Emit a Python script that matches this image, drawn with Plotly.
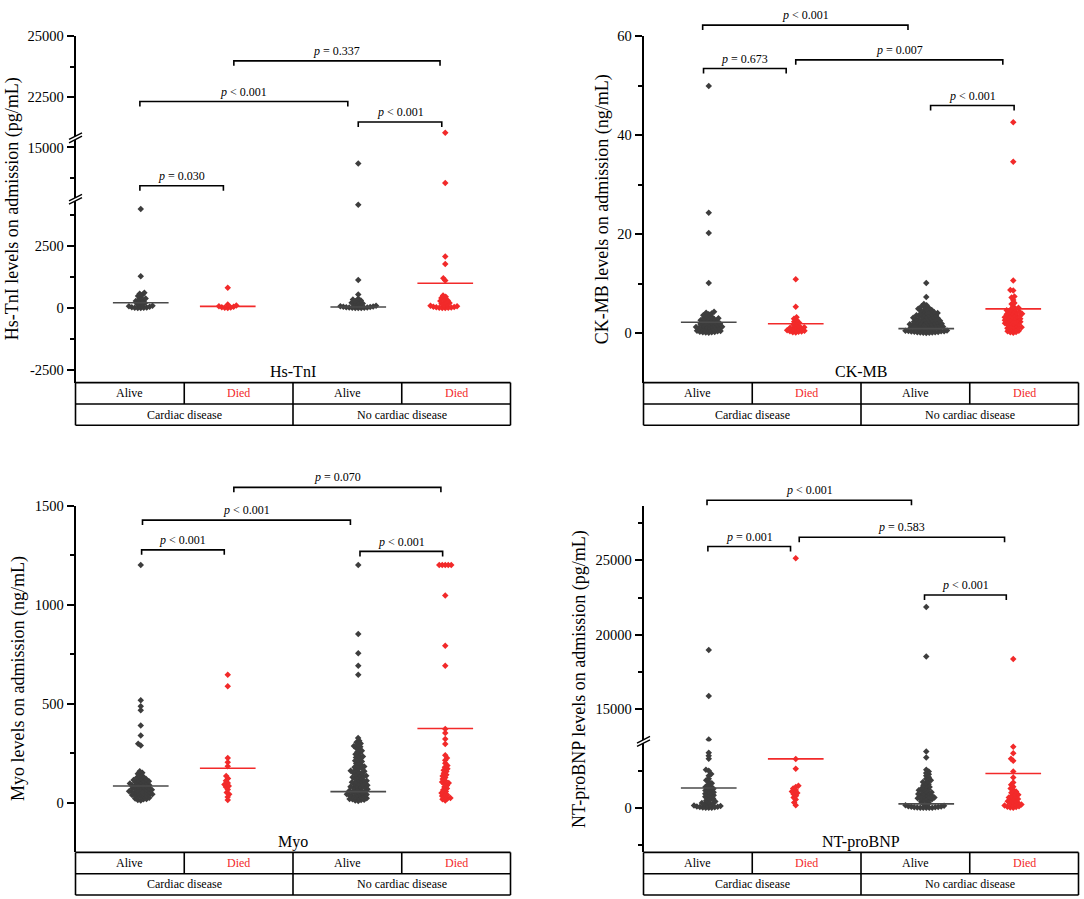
import math
import plotly.graph_objects as go

W, H = 1084, 899
FONT = "Liberation Serif"
DARK = "#3d3d3d"
RED = "#f22a2a"
LINE_DARK = "#4a4a4a"

# ---- categories / labels
status = ["Alive", "Died", "Alive", "Died"]
disease = ["Cardiac disease", "No cardiac disease"]
group_x = [1, 2, 3.5, 4.5]

# ---- Hs-TnI (pg/mL)
tni_cardiac_alive = [0, 5, 10, 15, 25, 35, 50, 70, 90, 110, 140, 170, 200, 240, 280, 307,
                     330, 380, 430, 480, 530, 580, 620, 1275, 3985]
tni_cardiac_died = [0, 10, 20, 35, 50, 70, 100, 140, 812]
tni_nocardiac_alive = [0, 0, 5, 10, 15, 20, 25, 30, 40, 50, 60, 75, 90, 110, 130, 150, 180,
                       210, 240, 270, 300, 340, 375, 546, 1131, 4160, 13685]
tni_nocardiac_died = [0, 5, 10, 15, 20, 30, 40, 55, 70, 90, 110, 140, 170, 200, 240, 280,
                      307, 350, 400, 450, 506, 1104, 1195, 1769, 2072, 12100, 21060]
tni_median = [215, 68, 40, 996]
tni_p = ["= 0.030", "&lt; 0.001", "= 0.337", "&lt; 0.001"]

# ---- CK-MB (ng/mL)
ck_cardiac_alive = [0.05, 0.1, 0.15, 0.2, 0.25, 0.3, 0.4, 0.45, 0.5, 0.6, 0.7, 0.75, 0.85, 0.95,
                    1.0, 1.05, 1.1, 1.2, 1.25, 1.3, 1.4, 1.5, 1.55, 1.6, 1.7, 1.8, 1.85, 1.95,
                    2.0, 2.1, 2.2, 2.3, 2.4, 2.5, 2.6, 2.7, 2.8, 2.9, 2.95,
                    3.0, 3.15, 3.3, 3.45, 3.6, 3.8, 3.95, 4.1, 4.3,
                    10.1, 20.2, 24.3, 49.9]
ck_cardiac_died = [0.1, 0.2, 0.3, 0.35, 0.4, 0.5, 0.6, 0.7, 0.8, 0.9, 1.0, 1.1, 1.2, 1.3,
                   1.5, 1.7, 1.9, 2.1, 2.3, 2.6, 2.9, 3.2, 5.3, 10.9]
ck_nocardiac_alive = [0.02, 0.05, 0.08, 0.1, 0.13, 0.17, 0.2, 0.24, 0.28, 0.32, 0.36, 0.4,
                      0.45, 0.5, 0.55, 0.6, 0.65, 0.7, 0.76, 0.82, 0.88, 0.94,
                      1.0, 1.05, 1.1, 1.15, 1.2, 1.25, 1.3, 1.35, 1.4, 1.45, 1.5, 1.55, 1.6,
                      1.65, 1.7, 1.75, 1.8, 1.85, 1.9, 1.95,
                      2.0, 2.06, 2.12, 2.18, 2.25, 2.31, 2.37, 2.43, 2.5, 2.56, 2.62, 2.68,
                      2.75, 2.81, 2.87, 2.94,
                      3.0, 3.08, 3.15, 3.23, 3.3, 3.38, 3.46, 3.54, 3.62, 3.7, 3.78, 3.86, 3.94,
                      4.05, 4.15, 4.25, 4.35, 4.45, 4.55, 4.65, 4.78, 4.9,
                      5.05, 5.25, 5.45, 5.65, 5.9, 7.3, 10.1]
ck_nocardiac_died = [0.05, 0.15, 0.25, 0.4, 0.5, 0.65, 0.8, 0.9,
                     1.0, 1.1, 1.2, 1.3, 1.45, 1.55, 1.7, 1.8, 1.9,
                     2.0, 2.1, 2.2, 2.3, 2.4, 2.5, 2.6, 2.7, 2.8, 2.9,
                     3.0, 3.1, 3.2, 3.3, 3.4, 3.5, 3.6, 3.7, 3.8, 3.9,
                     4.0, 4.1, 4.2, 4.35, 4.5, 4.6, 4.75, 4.9,
                     5.1, 5.4, 5.9, 6.1, 6.7, 7.2, 7.4, 8.6, 8.7, 10.6, 34.6, 42.6]
ck_median = [2.2, 1.9, 0.9, 4.9]
ck_p = ["&lt; 0.001", "= 0.673", "= 0.007", "&lt; 0.001"]

# ---- Myo (ng/mL)
myo_cardiac_alive = [12, 15, 18, 20, 22, 26, 30, 32, 34, 36, 38, 40, 42, 43, 46, 48, 49, 52,
                     54, 55, 57, 59, 61, 63, 65, 66, 68, 71, 73, 74, 77, 80, 82, 84, 86, 88,
                     89, 92, 95, 97, 98, 101, 104, 107, 109, 112, 114, 116, 120, 124, 128,
                     133, 140, 147, 152, 160, 290, 298, 340, 390, 468, 488, 518, 1200]
myo_cardiac_died = [15, 30, 43, 52, 68, 80, 85, 93, 100, 112, 123, 135, 185, 205, 227, 588, 647]
myo_nocardiac_alive = [10, 12, 14, 16, 18, 20, 23, 26, 28, 31, 34,
                       36, 38, 40, 42, 44, 47, 50, 52, 55, 57, 59,
                       61, 63, 66, 69, 72, 75, 78, 80, 82, 84,
                       86, 89, 92, 95, 98, 101, 104, 107, 109,
                       112, 115, 118, 121, 125, 129, 132, 134,
                       137, 141, 145, 149, 153, 157, 159,
                       162, 167, 172, 176, 180, 184,
                       188, 193, 199, 204, 209,
                       213, 218, 224, 229, 234,
                       239, 245, 251, 257,
                       263, 270, 277, 283,
                       287, 293, 300, 306, 313, 327,
                       647, 692, 755, 852, 1200]
myo_nocardiac_died = [12, 18, 22, 25, 30, 35, 40, 45, 50, 58, 65, 72, 80, 88, 95, 100, 105,
                      112, 120, 128, 135, 142, 150, 158, 165, 172, 180, 188, 200, 215, 227,
                      240, 297, 322, 352, 373, 692, 793, 1047, 1200, 1200, 1200, 1200, 1200]
myo_median = [85, 175, 57, 375]
myo_p = ["= 0.070", "&lt; 0.001", "&lt; 0.001", "&lt; 0.001"]

# ---- NT-proBNP (pg/mL)
bnp_cardiac_alive = [0, 0, 10, 20, 35, 50, 70, 90, 120, 150, 180, 210, 250, 290, 330, 380,
                     430, 490, 550, 620, 690, 740, 790, 840, 890, 940, 990, 1040, 1100,
                     1160, 1220, 1280, 1340, 1400, 1470, 1560, 1650, 1750, 1850, 1960,
                     2160, 2270, 2490, 2560, 3300, 3500, 3700, 12950, 15870, 18970]
bnp_cardiac_died = [180, 350, 560, 700, 820, 933, 1000, 1100, 1200, 1300, 1400, 1490,
                    2630, 3290, 25150]
bnp_nocardiac_alive = [0, 0, 0, 5, 10, 20, 30, 40, 55, 70, 90, 110, 140, 170, 210, 260, 320,
                       400, 470, 520, 550, 580, 610, 640, 670, 700, 730, 770, 810, 850, 890,
                       930, 970, 1010, 1050, 1090, 1130, 1180, 1230, 1280, 1340, 1400, 1460,
                       1520, 1590, 1660, 1730, 1790, 1850, 1950, 2050, 2150, 2250, 2350,
                       2450, 2560, 3380, 3780, 18530, 21870]
bnp_nocardiac_died = [0, 20, 50, 80, 110, 150, 190, 230, 270, 310, 350, 400, 450, 500, 550,
                      600, 650, 700, 760, 820, 880, 950, 1020, 1100, 1200, 1300, 1420, 1560,
                      1700, 2047, 2447, 3160, 3293, 3667, 4113, 18373]
bnp_median = [1333, 3290, 267, 2313]
bnp_p = ["&lt; 0.001", "= 0.001", "= 0.583", "&lt; 0.001"]

XR = [0.25, 5.25]
LEFT = (75.5, 510.5)
RIGHT = (643.5, 1078.5)

panels = [
    dict(name="Hs-TnI", ytitle="Hs-TnI levels on admission (pg/mL)", xa="x", xpx=LEFT,
         table_top=378, title_px=12,
         segs=[dict(ax="y", top=193, bot=378, rng=[-3000, 4375],
                    major=[-2500, 0, 2500], minor=[-1250, 1250, 3750]),
               dict(ax="y5", top=131, bot=193, rng=[10780, 15780], major=[15000], minor=[12500]),
               dict(ax="y6", top=28, bot=131, rng=[20850, 25005],
                    major=[22500, 25000], minor=[23750])],
         breaks=[131, 193],
         groups=[tni_cardiac_alive, tni_cardiac_died, tni_nocardiac_alive, tni_nocardiac_died],
         median=tni_median,
         brackets=[(0.99, 1.95, 179.3, tni_p[0]), (0.99, 3.38, 94.3, tni_p[1]),
                   (2.07, 4.44, 53.3, tni_p[2]), (3.50, 4.46, 115, tni_p[3])]),
    dict(name="CK-MB", ytitle="CK-MB levels on admission (ng/mL)", xa="x2", xpx=RIGHT,
         table_top=378, title_px=602,
         segs=[dict(ax="y2", top=28, bot=378, rng=[-10, 60.05],
                    major=[0, 20, 40, 60], minor=[10, 30, 50])],
         breaks=[],
         groups=[ck_cardiac_alive, ck_cardiac_died, ck_nocardiac_alive, ck_nocardiac_died],
         median=ck_median,
         brackets=[(0.93, 3.29, 17.3, ck_p[0]), (0.94, 1.89, 61, ck_p[1]),
                   (2.0, 4.38, 52.3, ck_p[2]), (3.55, 4.51, 98.3, ck_p[3])]),
    dict(name="Myo", ytitle="Myo levels on admission (ng/mL)", xa="x3", xpx=LEFT,
         table_top=852, title_px=19,
         segs=[dict(ax="y3", top=502, bot=852, rng=[-250, 1500.5],
                    major=[0, 500, 1000, 1500], minor=[250, 750, 1250])],
         breaks=[],
         groups=[myo_cardiac_alive, myo_cardiac_died, myo_nocardiac_alive, myo_nocardiac_died],
         median=myo_median,
         brackets=[(2.07, 4.45, 483.7, myo_p[0]), (1.02, 3.41, 516.7, myo_p[1]),
                   (1.01, 1.96, 546.7, myo_p[2]), (3.52, 4.47, 548.3, myo_p[3])]),
    dict(name="NT-proBNP", ytitle="NT-proBNP levels on admission (pg/mL)", xa="x4", xpx=RIGHT,
         table_top=852, title_px=580,
         segs=[dict(ax="y4", top=740, bot=852, rng=[-3000, 4467], major=[0], minor=[-2500, 2500]),
               dict(ax="y7", top=502, bot=740, rng=[12820, 28690],
                    major=[15000, 20000, 25000], minor=[17500, 22500, 27500])],
         breaks=[740],
         groups=[bnp_cardiac_alive, bnp_cardiac_died, bnp_nocardiac_alive, bnp_nocardiac_died],
         median=bnp_median,
         brackets=[(0.98, 3.33, 496.7, bnp_p[0]), (0.99, 1.94, 543.3, bnp_p[1]),
                   (2.04, 4.40, 534, bnp_p[2]), (3.48, 4.42, 592.3, bnp_p[3])]),
]


def key(ax):
    return ("xaxis" if ax[0] == "x" else "yaxis") + ax[1:]


def seg_for(p, v):
    for s in p["segs"]:
        if s["rng"][0] <= v <= s["rng"][1]:
            return s
    return None


def ypix(s, v):
    return s["bot"] - (v - s["rng"][0]) / (s["rng"][1] - s["rng"][0]) * (s["bot"] - s["top"])


def swarm(ys, d=3.0):
    # simple beeswarm in pixel space, bottom points placed first
    order = sorted(range(len(ys)), key=lambda i: -ys[i])
    placed = []
    xs = [0.0] * len(ys)
    for i in order:
        y = ys[i]
        near = [(px, py) for px, py in placed if abs(py - y) < d]
        cands = [0.0]
        for px, py in near:
            dx = math.sqrt(d * d - (py - y) ** 2)
            cands += [px + dx, px - dx]
        cands.sort(key=lambda c: (abs(c), c))
        for c in cands:
            if all((c - px) ** 2 + (y - py) ** 2 >= d * d - 1e-6 for px, py in near):
                xs[i] = c
                break
        placed.append((xs[i], y))
    return xs


def X(px):
    return px / W


def Y(py):
    return 1 - py / H


def note(xpx, ypx, text, size=12, color="black", angle=0):
    return dict(x=X(xpx), y=Y(ypx), xref="paper", yref="paper", text=text, showarrow=False,
                xanchor="center", yanchor="middle", textangle=angle,
                font=dict(family=FONT, size=size, color=color))


fig = go.Figure()
layout = {}
shapes = []
annotations = []
colors = [DARK, RED, DARK, RED]
line_colors = [LINE_DARK, RED, LINE_DARK, RED]
black_line = dict(color="black", width=1.6)

for p in panels:
    x0, x1 = p["xpx"]
    ppx = (x1 - x0) / (XR[1] - XR[0])
    layout[key(p["xa"])] = dict(domain=[X(x0), X(x1)], range=XR, visible=False,
                                anchor=p["segs"][0]["ax"], fixedrange=True)
    for s in p["segs"]:
        layout[key(s["ax"])] = dict(
            domain=[Y(s["bot"]), Y(s["top"])], range=s["rng"], anchor=p["xa"],
            showline=True, linecolor="black", linewidth=1.5, showgrid=False, zeroline=False,
            ticks="outside", ticklen=7, tickwidth=1.5, tickcolor="black",
            tickmode="array", tickvals=s["major"], ticktext=[str(v) for v in s["major"]],
            tickfont=dict(family=FONT, size=14.5, color="black"),
            minor=dict(tickmode="array", tickvals=s["minor"], ticks="outside", ticklen=4,
                       tickwidth=1.5, tickcolor="black", showgrid=False),
            fixedrange=True)

    # points
    for g, vals in enumerate(p["groups"]):
        ys = [ypix(seg_for(p, v), v) for v in vals]
        offs = swarm(ys)
        for s in p["segs"]:
            idx = [i for i, v in enumerate(vals) if seg_for(p, v) is s]
            if not idx:
                continue
            fig.add_trace(go.Scatter(
                x=[group_x[g] + offs[i] / ppx for i in idx], y=[vals[i] for i in idx],
                xaxis=p["xa"], yaxis=s["ax"], mode="markers",
                marker=dict(symbol="diamond", size=5, color=colors[g], line_width=0),
                showlegend=False, hoverinfo="y"))
        m = p["median"][g]
        fig.add_trace(go.Scatter(
            x=[group_x[g] - 0.32, group_x[g] + 0.32], y=[m, m],
            xaxis=p["xa"], yaxis=seg_for(p, m)["ax"], mode="lines",
            line=dict(color=line_colors[g], width=1.6), showlegend=False, hoverinfo="skip"))

    # significance brackets
    for xa, xb, yb, lab in p["brackets"]:
        pa = x0 + (xa - XR[0]) * ppx
        pb = x0 + (xb - XR[0]) * ppx
        shapes.append(dict(type="path", xref="paper", yref="paper", line=black_line,
                           path=f"M{X(pa)},{Y(yb + 5)} L{X(pa)},{Y(yb)} L{X(pb)},{Y(yb)} L{X(pb)},{Y(yb + 5)}"))
        annotations.append(note((pa + pb) / 2, yb - 10, "<i>p</i> " + lab))

    # axis breaks
    for yb in p["breaks"]:
        g2, hx, hy = 1.7, 6.5, 3.3
        shapes.append(dict(type="path", xref="paper", yref="paper", fillcolor="white",
                           line=dict(width=0, color="white"),
                           path=f"M{X(x0 - hx)},{Y(yb + hy + g2)} L{X(x0 + hx)},{Y(yb - hy + g2)} "
                                f"L{X(x0 + hx)},{Y(yb - hy - g2)} L{X(x0 - hx)},{Y(yb + hy - g2)} Z"))
        for o in (g2, -g2):
            shapes.append(dict(type="line", xref="paper", yref="paper",
                               x0=X(x0 - hx), y0=Y(yb + hy + o), x1=X(x0 + hx), y1=Y(yb - hy + o),
                               line=dict(color="black", width=1.4)))

    # table under the axis
    t = p["table_top"]
    mrow = t + 21.5
    b = t + 43
    w = x1 - x0
    for yy in (t, mrow, b):
        shapes.append(dict(type="line", xref="paper", yref="paper", x0=X(x0), x1=X(x1),
                           y0=Y(yy), y1=Y(yy), line=black_line))
    for xx, full in ((x0, True), (x0 + w / 4, False), (x0 + w / 2, True), (x0 + 3 * w / 4, False), (x1, True)):
        shapes.append(dict(type="line", xref="paper", yref="paper", x0=X(xx), x1=X(xx),
                           y0=Y(t), y1=Y(b if full else mrow), line=black_line))
    for i, lab in enumerate(status):
        annotations.append(note(x0 + w * (i + 0.5) / 4, (t + mrow) / 2, lab,
                                color=RED if lab == "Died" else "black"))
    for i, lab in enumerate(disease):
        annotations.append(note(x0 + w * (i + 0.5) / 2, (mrow + b) / 2, lab))

    # panel name and y title
    annotations.append(note((x0 + x1) / 2, t - 11, p["name"], size=16))
    top = min(s["top"] for s in p["segs"])
    annotations.append(note(p["title_px"], (top + t) / 2, p["ytitle"], size=18, angle=-90))

fig.update_layout(
    width=W, height=H, margin=dict(l=0, r=0, t=0, b=0),
    paper_bgcolor="white", plot_bgcolor="white", showlegend=False,
    font=dict(family=FONT, color="black"),
    shapes=shapes, annotations=annotations, **layout)

fig.write_html("out.html", config={"displayModeBar": False},
               post_script="document.body.style.margin='0';document.body.style.overflow='hidden';")
